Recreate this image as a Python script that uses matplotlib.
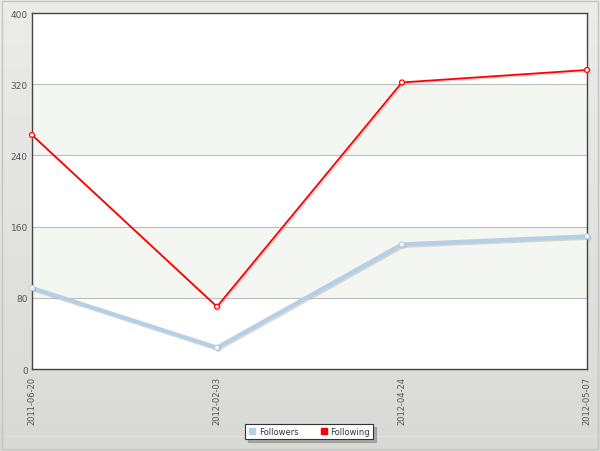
import numpy as np
import matplotlib.pyplot as plt
import matplotlib.patheffects as pe
from matplotlib.patches import Rectangle

dates = ["2011-06-20", "2012-02-03", "2012-04-24", "2012-05-07"]
followers = [91, 24, 140, 149]
following = [263, 70, 322, 336]
yticks = [0, 80, 160, 240, 320, 400]

fig = plt.figure(figsize=(6, 4.52), dpi=100)

# background gradient
bg = fig.add_axes([0, 0, 1, 1], zorder=-10)
grad = np.linspace(0, 1, 256).reshape(-1, 1)
c_top = np.array([0.925, 0.925, 0.92])
c_bot = np.array([0.85, 0.855, 0.84])
img = c_top + (c_bot - c_top) * grad[..., None]
bg.imshow(img, aspect="auto", extent=[0, 1, 0, 1])
bg.add_patch(Rectangle((0.004, 0.005), 0.992, 0.99, fill=False, ec="#c4c4c2", lw=1))
bg.plot([0.01, 0.99], [0.033, 0.033], color="#e4e4e2", lw=0.8)
bg.set_xlim(0, 1)
bg.set_ylim(0, 1)
bg.axis("off")

ax = fig.add_axes([0.0533, 0.1814, 0.925, 0.7876])
ax.set_facecolor("white")
for lo in (80, 240):
    ax.axhspan(lo, lo + 80, color="#f4f6f2", zorder=0)
for y in yticks[1:-1]:
    ax.axhline(y, color="#bdbdbd", lw=0.8, zorder=1)

x = np.arange(len(dates))
shadow = [pe.SimpleLineShadow(offset=(1, -1), shadow_color="#999999", alpha=0.35), pe.Normal()]
ax.plot(x, followers, color="#b5cfe6", lw=3, marker="o", ms=3.5, mfc="white",
        mec="#b5cfe6", mew=0.9, zorder=3, path_effects=shadow, clip_on=False, label="Followers")
ax.plot(x, following, color="#ff0000", lw=1.3, marker="o", ms=3.5, mfc="white",
        mec="#ff0000", mew=0.9, zorder=4, path_effects=shadow, clip_on=False, label="Following")

ax.set_xlim(0, 3)
ax.set_ylim(0, 400)
ax.set_yticks(yticks)
ax.set_xticks(x)
ax.set_xticklabels(dates, rotation=90, fontsize=6, color="#555555")
ax.tick_params(axis="y", labelsize=6.5, colors="#555555", length=0, pad=3)
ax.tick_params(axis="x", length=0, pad=5)
for s in ax.spines.values():
    s.set_color("#444444")
    s.set_linewidth(1)

leg = fig.legend(handles=[
    plt.Line2D([], [], ls="", marker="s", ms=4.5, color="#b5cfe6"),
    plt.Line2D([], [], ls="", marker="s", ms=4.5, color="#ff0000")],
    labels=["Followers", "Following"], loc="center", bbox_to_anchor=(0.515, 0.0435),
    ncol=2, fontsize=6, frameon=True, fancybox=False,
    shadow={"color": "#888888", "alpha": 0.6},
    handletextpad=0.3, columnspacing=2.5, borderpad=0.35, handlelength=1)
leg.get_frame().set_edgecolor("#333333")
leg.get_frame().set_linewidth(0.8)
for t in leg.get_texts():
    t.set_color("#333333")

fig.savefig("out.png", dpi=100)
